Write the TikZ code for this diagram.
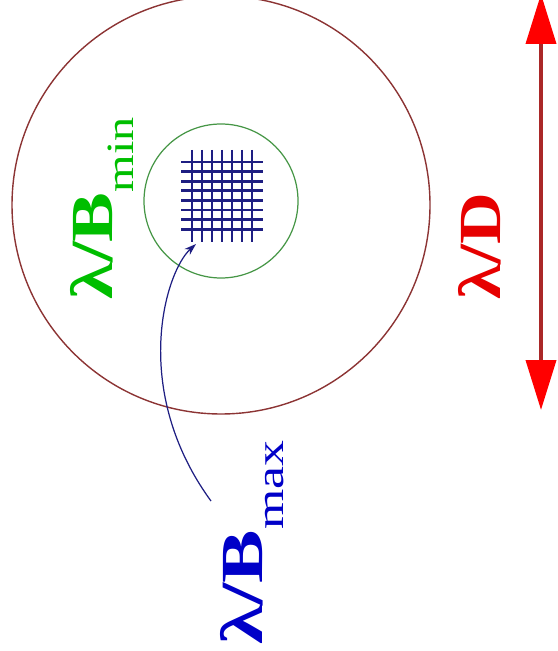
\documentclass[tikz,border=0pt]{standalone}
\usepackage{fontspec}
\usepackage{graphicx}
\setmainfont{Liberation Serif}
\usetikzlibrary{arrows.meta}

\definecolor{ringred}{RGB}{140,52,52}
\definecolor{ringgreen}{RGB}{70,150,70}
\definecolor{labgreen}{RGB}{0,190,0}
\definecolor{labblue}{RGB}{0,0,200}
\definecolor{labred}{RGB}{230,0,0}
\definecolor{gridblue}{RGB}{30,30,130}
\definecolor{shaftred}{RGB}{170,40,40}

\newcommand{\lamover}[3]{\scalebox{#3}[1]{\bfseries λ/#1\raisebox{-12.5pt}{\mdseries\fontsize{22}{24}\selectfont #2}}}

\tikzset{
  beamlabel/.style={rotate=90, anchor=base west, inner sep=0pt, font=\fontsize{34}{40}\selectfont},
  gridline/.style={gridblue, line width=1.7pt},
  dishtip/.tip={Triangle[length=1.0cm, width=0.6cm, color=red]},
}

\begin{document}
\begin{tikzpicture}[x=0.02cm, y=-0.02cm]
            \useasboundingbox (0,0) rectangle (557,651);
            % primary beam and synthesised beam
            \draw[ringred, line width=0.8pt] (221,205) circle (209);
            \draw[ringgreen, line width=0.7pt] (221,201) circle (77);
            % uv cells
            \foreach \x in {192,202,...,252}
              \draw[gridline] (\x,150) -- (\x,242);
            \foreach \i in {0,...,7}
              \draw[gridline] (181,162+9.6*\i) -- (263,162+9.6*\i);
            % labels
            \node[beamlabel, labgreen] (bmin) at (112,300) {\lamover{B}{min}{1.25}};
            \node[beamlabel, labred] (dlab) at (500,300) {\scalebox{1.2}[1]{\bfseries λ/D}};
            \node[beamlabel, labblue] (bmax) at (262,645) {\lamover{B}{max}{1.34}};
            % dish size
            \coordinate (dtop) at (541,-6);
            \coordinate (dbot) at (541,410);
            \draw[shaftred, line width=2.2pt, dishtip-dishtip] (dtop) -- (dbot);
            % pointer to one cell
            \coordinate (ptail) at (211,501);
            \coordinate (pcell) at (196,244);
            \draw[gridblue, line width=0.7pt, -{Stealth[length=0.24cm, width=0.16cm]}] (ptail) .. controls (130,390) and (165,272) .. (pcell);
          \end{tikzpicture}
\end{document}
